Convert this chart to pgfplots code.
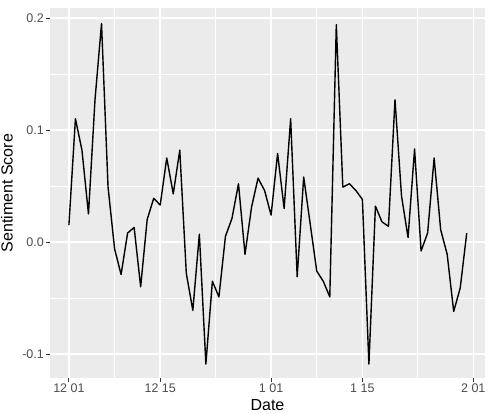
\documentclass[border=0pt]{standalone}
\usepackage{fontspec}
\setmainfont{Liberation Sans}
\usepackage{pgfplots}
\pgfplotsset{compat=1.18}
\definecolor{panelbg}{HTML}{EBEBEB}
\definecolor{ticklab}{HTML}{4D4D4D}
\definecolor{tickcol}{HTML}{333333}
\begin{document}
\begin{tikzpicture}
\begin{axis}[
  at={(50pt,36pt)}, anchor=south west,
  scale only axis, width=435pt, height=370pt,
  xmin=-2.9, xmax=63.8, ymin=-0.1214, ymax=0.2089,
  axis background/.style={fill=panelbg},
  axis line style={draw=none},
  xtick={0,14,31,45,62}, xticklabels={12 01,12 15,1 01,1 15,2 01},
  ytick={-0.1,0,0.1,0.2}, yticklabels={-0.1,0.0,0.1,0.2},
  minor xtick={7,22.5,38,53.5}, minor ytick={-0.05,0.05,0.15},
  grid=both,
  major grid style={white, line width=1.5pt},
  minor grid style={white, line width=0.75pt},
  tick align=outside, tick pos=left,
  major tick length=4pt, minor tick length=0pt,
  every tick/.style={tickcol, line width=0.9pt},
  tick label style={font=\fontsize{12.5}{14}\selectfont, text=ticklab},
  yticklabel style={inner sep=2pt},
  xticklabel style={inner sep=2pt},
  xlabel=Date, ylabel=Sentiment Score,
  label style={font=\fontsize{16}{18}\selectfont},
  xlabel style={at={(axis description cs:0.5,-0.0865)}, anchor=base},
  ylabel style={at={(axis description cs:-0.099,0.5)}, anchor=center},
  clip=false,
]
\addplot[black, line width=1.4pt, line join=round] table {
0 0.015
1 0.110
2 0.082
3 0.025
4 0.127
5 0.195
6 0.049
7 -0.006
8 -0.029
9 0.008
10 0.013
11 -0.040
12 0.020
13 0.039
14 0.033
15 0.075
16 0.043
17 0.082
18 -0.028
19 -0.061
20 0.007
21 -0.109
22 -0.035
23 -0.049
24 0.005
25 0.021
26 0.052
27 -0.011
28 0.031
29 0.057
30 0.046
31 0.024
32 0.079
33 0.030
34 0.110
35 -0.031
36 0.058
37 0.016
38 -0.026
39 -0.035
40 -0.049
41 0.194
42 0.049
43 0.052
44 0.046
45 0.038
46 -0.109
47 0.032
48 0.018
49 0.014
50 0.127
51 0.041
52 0.004
53 0.083
54 -0.008
55 0.008
56 0.075
57 0.011
58 -0.011
59 -0.062
60 -0.041
61 0.008
};
\end{axis}
\pgfresetboundingbox
\path[use as bounding box] (0pt,0pt) rectangle (490pt,414pt);
\end{tikzpicture}
\end{document}
